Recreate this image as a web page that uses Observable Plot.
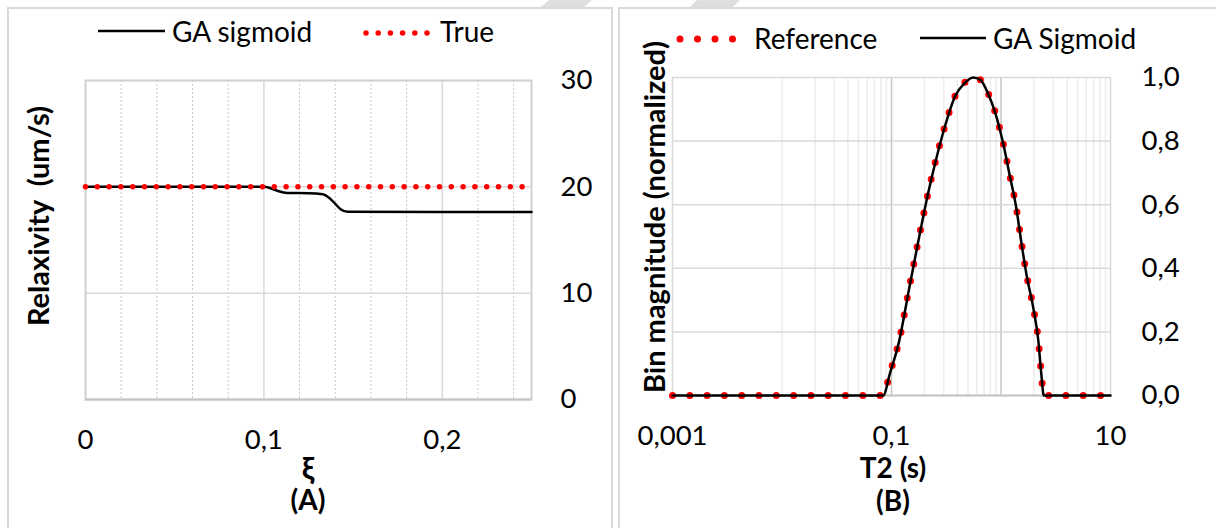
<!DOCTYPE html>
<html>
<head>
<meta charset="utf-8">
<script src="https://cdn.jsdelivr.net/npm/d3@7"></script>
<script src="https://cdn.jsdelivr.net/npm/@observablehq/plot@0.6"></script>
<style>
  html, body { margin: 0; padding: 0; background: #fff; }
  #root { position: relative; width: 1216px; height: 528px; overflow: hidden; background: #fff; font-family: Lato, "Open Sans", sans-serif; color: #000; }
  .abs { position: absolute; }
  .panelL { left: 7px; top: 7px; width: 602px; height: 560px; border-left: 2px solid #d9d9d9; border-top: 2px solid #d9d9d9; border-right: 2px solid #d9d9d9; }
  .panelR { left: 618px; top: 7px; width: 640px; height: 560px; border-left: 2px solid #d9d9d9; border-top: 2px solid #d9d9d9; }
  .t { position: absolute; font-size: 28px; white-space: nowrap; line-height: 1; transform: translate(0, -50%); }
  .c { position: absolute; font-size: 28px; font-weight: bold; white-space: nowrap; line-height: 1; transform: translate(-50%, -50%); }
  .v { position: absolute; font-size: 29px; font-weight: bold; white-space: nowrap; line-height: 1; transform: translate(-50%, -50%) rotate(-90deg); }
</style>
</head>
<body>
<div id="root">
  <svg class="abs" style="left:0;top:0" width="1216" height="12">
    <polygon points="540,8 583,8 592,0 549,0" fill="#dedede"/>
    <polygon points="689,8 732,8 740,0 697,0" fill="#dedede"/>
  </svg>
  <div class="abs panelL"></div>
  <div class="abs panelR"></div>
  <div id="plotA" class="abs" style="left:0;top:0"></div>
  <div id="plotB" class="abs" style="left:608px;top:0"></div>

  <!-- Legend A -->
  <svg class="abs" style="left:0;top:0" width="608" height="60">
    <line x1="98" y1="31" x2="165" y2="31" stroke="#000" stroke-width="2.5"/>
    <line x1="366" y1="33" x2="428" y2="33" stroke="red" stroke-width="5.5" stroke-linecap="round" stroke-dasharray="0 12.2"/>
  </svg>
  <div class="t" style="left:172px;top:31px">GA sigmoid</div>
  <div class="t" style="left:440px;top:31px">True</div>

  <!-- Legend B -->
  <svg class="abs" style="left:608px;top:0" width="608" height="60">
    <line x1="72" y1="39" x2="125" y2="39" stroke="red" stroke-width="7" stroke-linecap="round" stroke-dasharray="0 17.5"/>
    <line x1="312" y1="38" x2="378" y2="38" stroke="#000" stroke-width="2.5"/>
  </svg>
  <div class="t" style="left:754px;top:38px">Reference</div>
  <div class="t" style="left:993px;top:38px">GA Sigmoid</div>

  <!-- Titles -->
  <div class="v" style="left:37px;top:216px">Relaxivity&nbsp; (um/s)</div>
  <div class="c" style="left:308px;top:467px;font-size:31px">ξ</div>
  <div class="c" style="left:308px;top:499px">(A)</div>
  <div class="v" style="left:653px;top:217px">Bin magnitude (normalized)</div>
  <div class="c" style="left:893px;top:467px">T2 (s)</div>
  <div class="c" style="left:893px;top:500px">(B)</div>
</div>
<script>
// ---------- Panel A data ----------
const xiGA   = [0, 0.1, 0.104, 0.108, 0.113, 0.125, 0.133, 0.137, 0.14, 0.143, 0.147, 0.25];
const relaxGA = [20, 20, 19.85, 19.6, 19.42, 19.4, 19.3, 18.9, 18.4, 17.9, 17.65, 17.64];
const xiTrue = [0, 0.25];
const relaxTrue = [20, 20];
const xTicksA = [0, 0.1, 0.2];
const yTicksA = [0, 10, 20, 30];
const xMinorA = [0.02, 0.04, 0.06, 0.08, 0.12, 0.14, 0.16, 0.18, 0.22, 0.24];
const xMajorA = [0.1, 0.2];
const yGridA = [10, 20];

// ---------- Panel B data ----------
const t2 = [0.001, 0.084, 0.0965, 0.1175, 0.144, 0.175, 0.216, 0.254, 0.305, 0.382, 0.465, 0.557, 0.650, 0.764, 0.873, 1.04, 1.205, 1.377, 1.53, 1.71, 1.97, 2.19, 2.33, 2.46, 10];
const binGA = [0, 0, 0.068, 0.171, 0.331, 0.482, 0.636, 0.739, 0.842, 0.942, 0.982, 1.0, 0.992, 0.948, 0.896, 0.797, 0.690, 0.591, 0.484, 0.380, 0.276, 0.174, 0.070, 0, 0];
const binRef = [0, 0, 0.07, 0.172, 0.333, 0.483, 0.637, 0.741, 0.843, 0.943, 0.984, 1.0, 0.993, 0.95, 0.897, 0.798, 0.691, 0.592, 0.486, 0.381, 0.277, 0.176, 0.072, 0, 0];
const xTicksB = [0.001, 0.1, 10];
const xTickLabelsB = ["0,001", "0,1", "10"];
const yTicksB = [0, 0.2, 0.4, 0.6, 0.8, 1.0];
const xMinorB = [0.01,0.02,0.03,0.04,0.05,0.06,0.07,0.08,0.09,0.2,0.3,0.4,0.5,0.6,0.7,0.8,0.9,2,3,4,5,6,7,8,9];
const xMajorB = [0.1, 1];
const yGridB = [0.2, 0.4, 0.6, 0.8];

const commaFmt = d => String(d).replace(".", ",");
const style = {fontFamily: "Lato, 'Open Sans', sans-serif", fontSize: "27.5px", color: "#000", background: "transparent"};

const dataA_GA = xiGA.map((x, i) => ({x, y: relaxGA[i]}));
const dataA_True = xiTrue.map((x, i) => ({x, y: relaxTrue[i]}));

const plotA = Plot.plot({
  width: 608, height: 528,
  marginLeft: 85, marginRight: 77, marginTop: 80, marginBottom: 129,
  style,
  x: {domain: [0, 0.25], axis: null},
  y: {domain: [0, 30], axis: null},
  marks: [
    Plot.ruleX(xMinorA, {stroke: "#c8c8c8", strokeWidth: 1, strokeDasharray: "2 2"}),
    Plot.ruleX(xMajorA, {stroke: "#d9d9d9", strokeWidth: 1.5}),
    Plot.ruleY(yGridA, {stroke: "#d9d9d9", strokeWidth: 1.5}),
    Plot.frame({stroke: "#d0d0d0", strokeWidth: 2}),
    Plot.ruleY([0], {stroke: "#c4c4c4", strokeWidth: 2}),
    Plot.axisY({anchor: "right", ticks: yTicksA, tickSize: 0, tickPadding: 29, tickFormat: commaFmt, label: null}),
    Plot.axisX({ticks: xTicksA, tickSize: 0, tickPadding: 30, tickFormat: commaFmt, label: null}),
    Plot.line(dataA_GA, {x: "x", y: "y", stroke: "#000", strokeWidth: 2.5, curve: "monotone-x"}),
    Plot.line(dataA_True, {x: "x", y: "y", stroke: "red", strokeWidth: 5.5, strokeLinecap: "round", strokeDasharray: "0 11.8"})
  ]
});
document.getElementById("plotA").appendChild(plotA);

const dataB_GA = t2.map((x, i) => ({x, y: binGA[i]}));
const dataB_Ref = t2.map((x, i) => ({x, y: binRef[i]}));

const plotB = Plot.plot({
  width: 608, height: 528,
  marginLeft: 64, marginRight: 106, marginTop: 77, marginBottom: 133,
  style,
  x: {type: "log", domain: [0.001, 10], axis: null},
  y: {domain: [0, 1], axis: null},
  marks: [
    Plot.ruleX(xMinorB, {stroke: "#ececec", strokeWidth: 1.5}),
    Plot.ruleX(xMajorB, {stroke: "#c4c4c4", strokeWidth: 1.5}),
    Plot.ruleY(yGridB, {stroke: "#d9d9d9", strokeWidth: 1.5}),
    Plot.frame({stroke: "#d9d9d9", strokeWidth: 1.5}),
    Plot.ruleY([0], {stroke: "#c4c4c4", strokeWidth: 2}),
    Plot.axisY({anchor: "right", ticks: yTicksB, tickSize: 0, tickPadding: 31, tickFormat: d => d.toFixed(1).replace(".", ","), label: null}),
    Plot.axisX({ticks: xTicksB, tickSize: 0, tickPadding: 30, tickFormat: (d, i) => xTickLabelsB[xTicksB.indexOf(d)], label: null}),
    Plot.line(dataB_Ref, {x: "x", y: "y", stroke: "red", strokeWidth: 7, strokeLinecap: "round", strokeDasharray: "0 17.3", curve: "monotone-x"}),
    Plot.line(dataB_GA, {x: "x", y: "y", stroke: "#000", strokeWidth: 2.5, curve: "monotone-x"})
  ]
});
document.getElementById("plotB").appendChild(plotB);
</script>
</body>
</html>
